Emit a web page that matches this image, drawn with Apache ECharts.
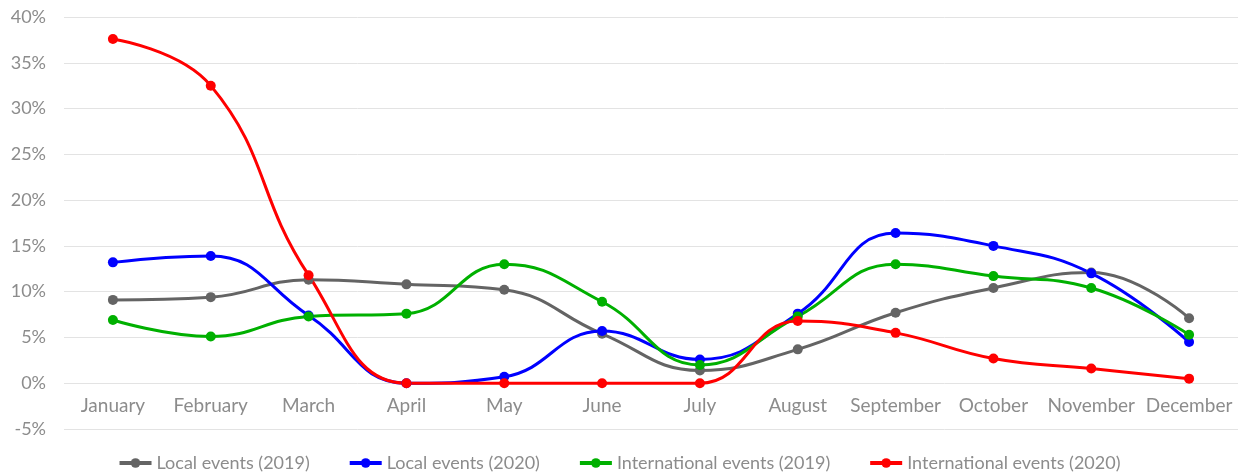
<!DOCTYPE html>
<html>
<head>
<meta charset="utf-8">
<script src="https://cdn.jsdelivr.net/npm/echarts@6/dist/echarts.min.js"></script>
<style>
html,body{margin:0;padding:0;background:#fff;}
#chart{width:1238px;height:472px;}
</style>
</head>
<body>
<div id="chart"></div>
<script>
const categories = ['January','February','March','April','May','June','July','August','September','October','November','December'];
const local2019 = [9.1, 9.4, 11.3, 10.8, 10.2, 5.4, 1.4, 3.7, 7.7, 10.4, 12.1, 7.1];
const local2020 = [13.2, 13.9, 7.4, 0, 0.7, 5.7, 2.6, 7.6, 16.4, 15.0, 12.0, 4.5];
const intl2019 = [6.9, 5.1, 7.3, 7.6, 13.0, 8.9, 2.0, 7.3, 13.0, 11.7, 10.4, 5.3];
const intl2020 = [37.6, 32.5, 11.8, 0, 0, 0, 0, 6.8, 5.5, 2.7, 1.6, 0.5];
const seriesNames = ['Local events (2019)','Local events (2020)','International events (2019)','International events (2020)'];
const yTicks = {min: -5, max: 40, interval: 5};

const colors = ['#646464','#0000ff','#00b000','#ff0000'];
const dataSets = [local2019, local2020, intl2019, intl2020];
const font = 'Lato';

const chart = echarts.init(document.getElementById('chart'));
const gridTop = 17, gridBottom = 43, H = 472;
const plotH = H - gridTop - gridBottom;
// shift x axis from the bottom (-5) up to the zero line
const zeroOffset = -plotH * (0 - yTicks.min) / (yTicks.max - yTicks.min);

chart.setOption({
  animation: false,
  color: colors,
  grid: {left: 64, right: 0, top: gridTop, bottom: gridBottom, containLabel: false},
  legend: {
    top: 449,
    left: 'center',
    itemWidth: 32,
    itemHeight: 12,
    itemGap: 38,
    textStyle: {fontFamily: font, fontSize: 18, color: '#8c8c8c'},
    data: seriesNames.map((n, i) => ({name: n, lineStyle: {width: 4, color: colors[i]}}))
  },
  xAxis: {
    type: 'category',
    data: categories,
    boundaryGap: true,
    offset: zeroOffset,
    axisLine: {show: false, onZero: false},
    axisTick: {show: false},
    axisLabel: {fontFamily: font, fontSize: 19, color: '#8c8c8c', margin: 13, interval: 0}
  },
  yAxis: {
    type: 'value',
    min: yTicks.min, max: yTicks.max, interval: yTicks.interval,
    axisLine: {show: false},
    axisTick: {show: false},
    axisLabel: {fontFamily: font, fontSize: 18, color: '#8c8c8c', margin: 18, formatter: '{value}%'},
    splitLine: {lineStyle: {color: '#e3e3e3', width: 1}}
  },
  series: seriesNames.map((n, i) => ({
    name: n,
    type: 'line',
    data: dataSets[i],
    smooth: 0.45,
    symbol: 'circle',
    symbolSize: 10,
    lineStyle: {width: 3, color: colors[i]},
    itemStyle: {color: colors[i]}
  }))
});
</script>
</body>
</html>
